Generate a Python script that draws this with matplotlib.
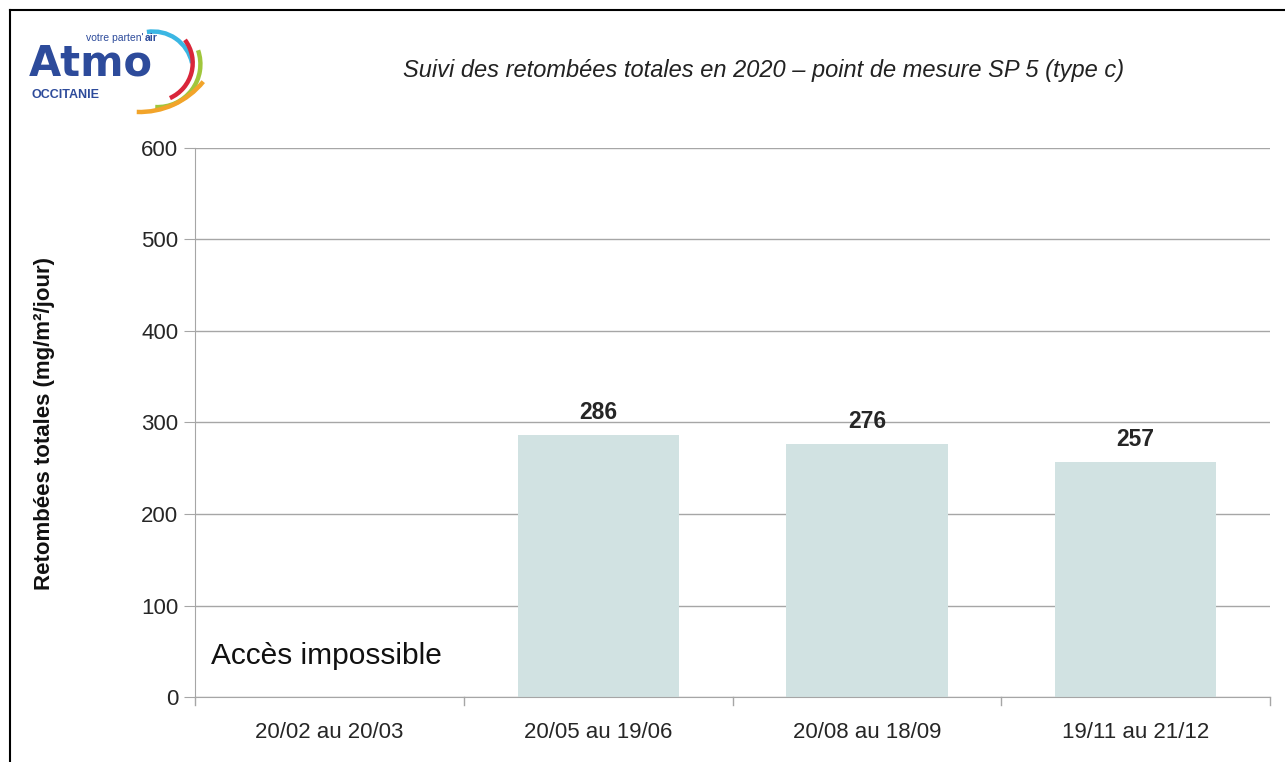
import matplotlib
matplotlib.use("Agg")
import matplotlib.pyplot as plt
from matplotlib.patches import Arc
from matplotlib.lines import Line2D

categories = ["20/02 au 20/03", "20/05 au 19/06", "20/08 au 18/09", "19/11 au 21/12"]
values = [None, 286, 276, 257]
yticks = [0, 100, 200, 300, 400, 500, 600]
title = "Suivi des retombées totales en 2020 – point de mesure SP 5 (type c)"
ylabel = "Retombées totales (mg/m²/jour)"
note = "Accès impossible"

plt.rcParams['font.family'] = ['Liberation Sans', 'DejaVu Sans']

fig = plt.figure(figsize=(12.85, 7.62), dpi=100)
ax = fig.add_axes([195/1285, 1-697/762, (1270-195)/1285, (697-148)/762])

grid_c = "#a6a6a6"
bar_c = "#d1e2e2"
x = list(range(len(categories)))
for i, v in enumerate(values):
    if v is not None:
        ax.bar(i, v, width=0.6, color=bar_c, zorder=2)
        ax.text(i, v + 12, str(v), ha="center", va="bottom", fontsize=16.5,
                fontweight="bold", color="#262626")

ax.set_xlim(-0.5, len(categories) - 0.5)
ax.set_ylim(0, 600)
ax.set_yticks(yticks)
ax.set_yticklabels([str(t) for t in yticks], fontsize=16, color="#262626")
ax.set_xticks(x)
ax.set_xticklabels(categories, fontsize=16, color="#262626")
ax.tick_params(axis="x", length=0, pad=18)
ax.tick_params(axis="y", length=8, color=grid_c, pad=4)
for b in [i - 0.5 for i in range(len(categories) + 1)]:
    ax.plot([b, b], [0, -9], color=grid_c, lw=1, clip_on=False, zorder=1)
ax.yaxis.grid(True, color=grid_c, lw=1, zorder=0)
ax.set_axisbelow(True)
for s in ["top", "right"]:
    ax.spines[s].set_visible(False)
ax.spines["left"].set_color(grid_c)
ax.spines["bottom"].set_color(grid_c)

ax.text(-0.44, 45, note, fontsize=21.5, color="#111111", va="center", ha="left")

fig.text(45/1285, 1-424/762, ylabel, rotation=90, fontsize=16, fontweight="bold",
         ha="center", va="center", color="#111111")
fig.text(764/1285, 1-70/762, title, fontsize=17, style="italic", ha="center",
         va="center", color="#222222")

# frame lines (top and left)
fig.add_artist(Line2D([10/1285, 1], [1-10/762, 1-10/762], color="black", lw=1.5))
fig.add_artist(Line2D([10/1285, 10/1285], [0, 1-10/762], color="black", lw=1.5))

# logo (pixel coordinates, y down)
lax = fig.add_axes([0, 0, 1, 1])
lax.set_xlim(0, 1285)
lax.set_ylim(762, 0)
lax.axis("off")
blue = "#2d4b9b"
lax.text(29, 76, "Atmo", fontsize=30, fontweight="bold", color=blue, va="baseline",
         family=["DejaVu Sans"])
t1 = lax.text(86, 41, "votre parten'", fontsize=7.5, color=blue, va="baseline")
renderer = fig.canvas.get_renderer()
bb = t1.get_window_extent(renderer)
xr = lax.transData.inverted().transform((bb.x1, bb.y0))[0]
lax.text(xr + 1, 41, "air", fontsize=7.5, fontweight="bold", color=blue, va="baseline")
lax.text(32, 98, "OCCITANIE", fontsize=9, fontweight="bold", color=blue, va="baseline")
arcs = [
    ("#3bb6e3", (153.1, 71.3), 39.8, -99, -12),
    ("#d9263a", (154.3, 63.0), 38.4, -37, 66),
    ("#a0c63c", (157.5, 64.2), 42.9, -19, 93),
    ("#f2a42a", (139.6, 30.1), 81.9, 39, 92),
]
for col, c, r, a1, a2 in arcs:
    lax.add_patch(Arc(c, 2*r, 2*r, theta1=a1, theta2=a2, color=col, lw=3.2))

fig.savefig("out.png", dpi=100, facecolor="white")
